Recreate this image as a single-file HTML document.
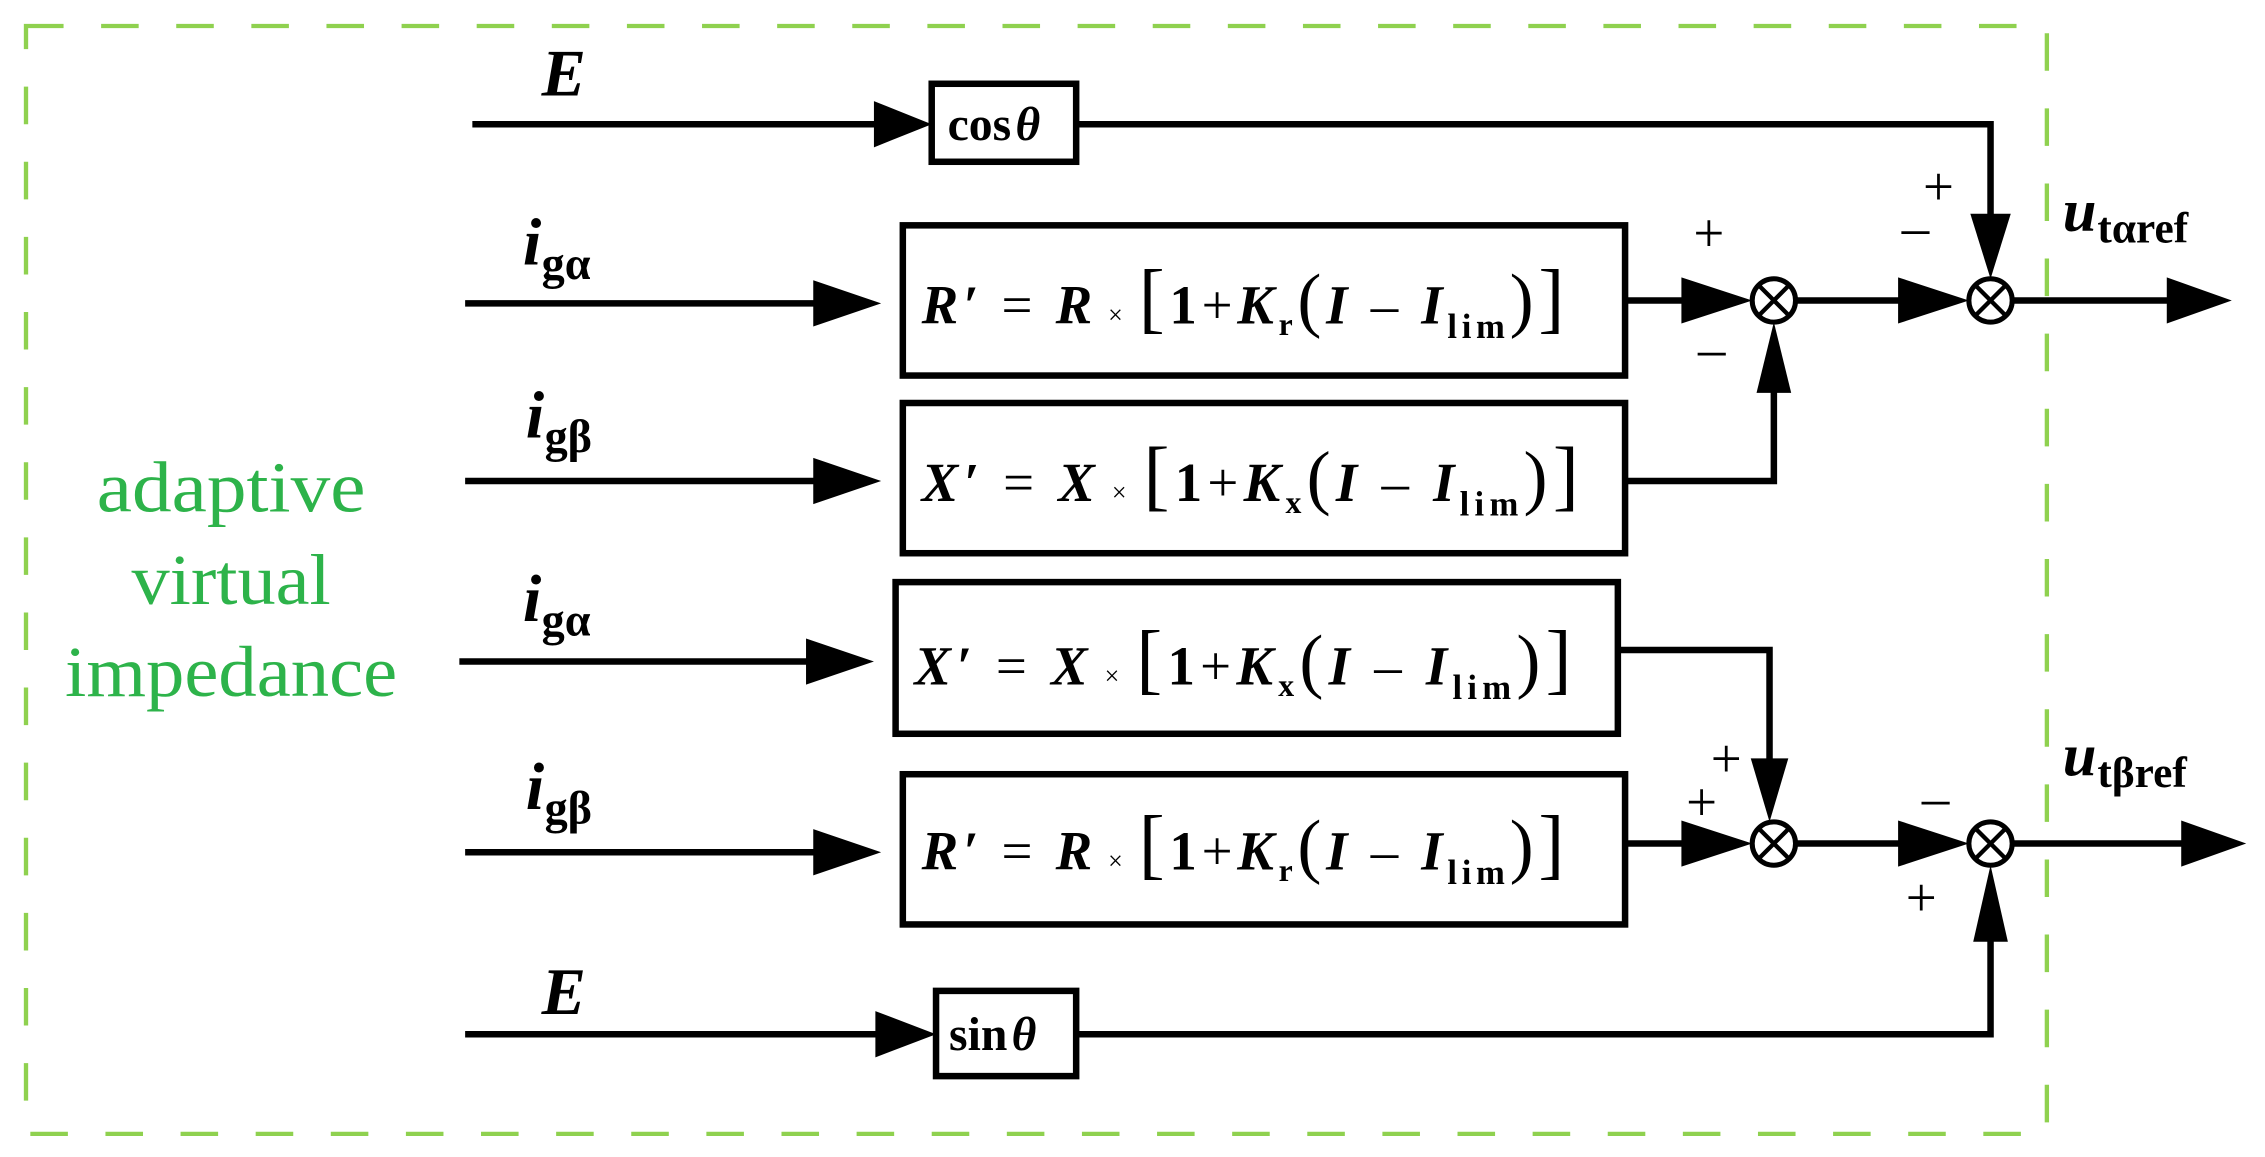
<!DOCTYPE html>
<html><head><meta charset="utf-8"><style>
html,body{margin:0;padding:0;background:#fff;}
svg{display:block;}
.v{font-family:"Liberation Serif",serif;font-weight:bold;font-style:italic;}
.n{font-family:"Liberation Serif",serif;font-weight:bold;font-style:normal;}
.s{font-family:"Liberation Serif",serif;font-weight:normal;}
</style></head><body>
<svg width="2265" height="1157" viewBox="0 0 1568 801" preserveAspectRatio="none" xmlns="http://www.w3.org/2000/svg">
<rect x="18" y="18" width="1399" height="767" fill="none" stroke="#8fd14f" stroke-width="3" stroke-dasharray="26,26"/>
<g fill="#2db34a" font-family="Liberation Serif,serif" font-size="50" text-anchor="middle">
<text x="160" y="354" textLength="186" lengthAdjust="spacingAndGlyphs">adaptive</text>
<text x="160" y="418" textLength="138" lengthAdjust="spacingAndGlyphs">virtual</text>
<text x="160" y="482" textLength="230" lengthAdjust="spacingAndGlyphs">impedance</text>
</g>
<g stroke="#000" stroke-width="4.5" fill="none">
<line x1="327" y1="86" x2="610" y2="86"/>
<rect x="645" y="58" width="100" height="54"/>
<polyline points="745,86 1378,86 1378,155"/>
<line x1="322" y1="210" x2="575" y2="210"/>
<rect x="625" y="156" width="500" height="104"/>
<line x1="1125" y1="208" x2="1170" y2="208"/>
<line x1="1242" y1="208" x2="1320" y2="208"/>
<line x1="1392" y1="208" x2="1505" y2="208"/>
<line x1="322" y1="333" x2="575" y2="333"/>
<rect x="625" y="279" width="500" height="104"/>
<polyline points="1125,333 1228,333 1228,270"/>
<line x1="318" y1="458" x2="570" y2="458"/>
<rect x="620" y="403" width="500" height="105"/>
<polyline points="1120,450 1225,450 1225,530"/>
<line x1="322" y1="590" x2="575" y2="590"/>
<rect x="625" y="536" width="500" height="104"/>
<line x1="1125" y1="584" x2="1170" y2="584"/>
<line x1="1242" y1="584" x2="1320" y2="584"/>
<line x1="1392" y1="584" x2="1520" y2="584"/>
<line x1="322" y1="716" x2="610" y2="716"/>
<rect x="648" y="686" width="97" height="59"/>
<polyline points="745,716 1378,716 1378,650"/>
<circle cx="1228" cy="208" r="15" stroke-width="3.5"/>
<circle cx="1378" cy="208" r="15" stroke-width="3.5"/>
<circle cx="1228" cy="584" r="15" stroke-width="3.5"/>
<circle cx="1378" cy="584" r="15" stroke-width="3.5"/>
<g stroke-width="3">
<path d="M1218,198 L1238,218 M1238,198 L1218,218"/>
<path d="M1368,198 L1388,218 M1388,198 L1368,218"/>
<path d="M1218,574 L1238,594 M1238,574 L1218,594"/>
<path d="M1368,574 L1388,594 M1388,574 L1368,594"/>
</g>
</g>
<g fill="#000">
<polygon points="605,70 645,86 605,102"/>
<polygon points="1364,148 1392,148 1378,193"/>
<polygon points="563,194 610,210 563,226"/>
<polygon points="1164,192 1213,208 1164,224"/>
<polygon points="1314,192 1363,208 1314,224"/>
<polygon points="1500,192 1545,208 1500,224"/>
<polygon points="563,317 610,333 563,349"/>
<polygon points="1216,272 1240,272 1228,223"/>
<polygon points="558,442 605,458 558,474"/>
<polygon points="1212,525 1238,525 1225,569"/>
<polygon points="563,574 610,590 563,606"/>
<polygon points="1164,568 1213,584 1164,600"/>
<polygon points="1314,568 1363,584 1314,600"/>
<polygon points="1510,568 1555,584 1510,600"/>
<polygon points="606,700 648,716 606,732"/>
<polygon points="1366,652 1390,652 1378,599"/>
</g>
<g font-size="46" class="v">
<text x="375" y="66">E</text>
<text x="375" y="702">E</text>
</g>
<g>
<text x="362" y="183" class="v" font-size="46">i</text><text x="375" y="193" class="n" font-size="32">gα</text>
<text x="364" y="303" class="v" font-size="46">i</text><text x="377" y="313" class="n" font-size="32">gβ</text>
<text x="362" y="430" class="v" font-size="46">i</text><text x="375" y="440" class="n" font-size="32">gα</text>
<text x="364" y="560" class="v" font-size="46">i</text><text x="377" y="570" class="n" font-size="32">gβ</text>
<text x="1428" y="160" class="v" font-size="42">u</text><text x="1452" y="168" class="n" font-size="30">tαref</text>
<text x="1428" y="537" class="v" font-size="42">u</text><text x="1452" y="545" class="n" font-size="30">tβref</text>
</g>
<g class="n" font-size="33">
<text x="656" y="97">cos<tspan class="v" dx="3">θ</tspan></text>
<text x="657" y="727">sin<tspan class="v" dx="3">θ</tspan></text>
</g>
<g font-size="38">
<text x="638" y="224" textLength="445" lengthAdjust="spacing"><tspan class="v">R′</tspan><tspan class="s"> = </tspan><tspan class="v">R</tspan><tspan class="s" font-size="18"> × </tspan><tspan class="s" font-size="54">[</tspan><tspan class="n">1</tspan><tspan class="s">+</tspan><tspan class="v">K</tspan><tspan class="n" font-size="22" dy="8">r</tspan><tspan class="s" font-size="50" dy="-8">(</tspan><tspan class="v">I</tspan><tspan class="s"> – </tspan><tspan class="v">I</tspan><tspan class="n" font-size="24" dy="10">lim</tspan><tspan class="s" font-size="50" dy="-10">)</tspan><tspan class="s" font-size="54">]</tspan></text>
<text x="638" y="347" textLength="455" lengthAdjust="spacing"><tspan class="v">X′</tspan><tspan class="s"> = </tspan><tspan class="v">X</tspan><tspan class="s" font-size="18"> × </tspan><tspan class="s" font-size="54">[</tspan><tspan class="n">1</tspan><tspan class="s">+</tspan><tspan class="v">K</tspan><tspan class="n" font-size="22" dy="8">x</tspan><tspan class="s" font-size="50" dy="-8">(</tspan><tspan class="v">I</tspan><tspan class="s"> – </tspan><tspan class="v">I</tspan><tspan class="n" font-size="24" dy="10">lim</tspan><tspan class="s" font-size="50" dy="-10">)</tspan><tspan class="s" font-size="54">]</tspan></text>
<text x="633" y="474" textLength="455" lengthAdjust="spacing"><tspan class="v">X′</tspan><tspan class="s"> = </tspan><tspan class="v">X</tspan><tspan class="s" font-size="18"> × </tspan><tspan class="s" font-size="54">[</tspan><tspan class="n">1</tspan><tspan class="s">+</tspan><tspan class="v">K</tspan><tspan class="n" font-size="22" dy="8">x</tspan><tspan class="s" font-size="50" dy="-8">(</tspan><tspan class="v">I</tspan><tspan class="s"> – </tspan><tspan class="v">I</tspan><tspan class="n" font-size="24" dy="10">lim</tspan><tspan class="s" font-size="50" dy="-10">)</tspan><tspan class="s" font-size="54">]</tspan></text>
<text x="638" y="602" textLength="445" lengthAdjust="spacing"><tspan class="v">R′</tspan><tspan class="s"> = </tspan><tspan class="v">R</tspan><tspan class="s" font-size="18"> × </tspan><tspan class="s" font-size="54">[</tspan><tspan class="n">1</tspan><tspan class="s">+</tspan><tspan class="v">K</tspan><tspan class="n" font-size="22" dy="8">r</tspan><tspan class="s" font-size="50" dy="-8">(</tspan><tspan class="v">I</tspan><tspan class="s"> – </tspan><tspan class="v">I</tspan><tspan class="n" font-size="24" dy="10">lim</tspan><tspan class="s" font-size="50" dy="-10">)</tspan><tspan class="s" font-size="54">]</tspan></text>
</g>
<g class="s" font-size="38" text-anchor="middle">
<text x="1183" y="174">+</text>
<text x="1185" y="254">–</text>
<text x="1342" y="142">+</text>
<text x="1326" y="170">–</text>
<text x="1195" y="538">+</text>
<text x="1178" y="568">+</text>
<text x="1340" y="565">–</text>
<text x="1330" y="634">+</text>
</g>
</svg>
</body></html>
